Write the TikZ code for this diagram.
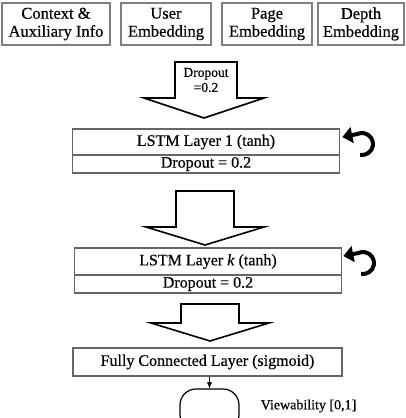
\documentclass[tikz,border=0pt]{standalone}
\usepackage{fontspec}
\setmainfont{Liberation Serif}[FakeBold=0.5]
\usepackage{tikz}
\usetikzlibrary{arrows.meta}

\begin{document}
\begin{tikzpicture}
            [x=1pt,y=-1pt,
             inbox/.style={draw=gray,line width=1.1pt,align=center,inner sep=0pt,
                           font=\fontsize{16.5}{18}\selectfont},
             layer/.style={draw=gray!80!black,line width=1.1pt,inner sep=0pt,
                           minimum width=267pt,font=\fontsize{16}{18}\selectfont},
             blockarrow/.style={draw=black,fill=white,line width=1.6pt,line join=miter},
             curl/.style={line width=4pt,-{Triangle[length=10pt,width=16pt]}}]
            \useasboundingbox (0,0) rectangle (406,418);

            \node (ctx)   [inbox,minimum width=108pt,minimum height=42pt] at ( 56,24) {Context \&\\Auxiliary Info};
            \node (user)  [inbox,minimum width= 90pt,minimum height=42pt] at (166,24) {User\\Embedding};
            \node (page)  [inbox,minimum width= 90pt,minimum height=42pt] at (267,24) {Page\\Embedding};
            \node (depth) [inbox,minimum width= 86pt,minimum height=42pt] at (361,24) {Depth\\Embedding};

            \draw[blockarrow] (175,62) -- (237,62) -- (237,98) -- (264,98) -- (204,118)
                              -- (144,98) -- (175,98) -- cycle;
            \node (drop0) [align=center,inner sep=0pt,font=\fontsize{13.5}{15}\selectfont] at (206,80) {Dropout\\=0.2};

            \node (lstm1) [layer,minimum height=26pt] at (206,142) {LSTM Layer 1 (tanh)};
            \node (drop1) [layer,minimum height=18pt] at (206,164) {Dropout = 0.2};
            \draw[curl] (362,144) ++(100:11) arc[start angle=100,end angle=-115,radius=11] -- ++(-15,3);

            \draw[blockarrow] (176,191) -- (234,191) -- (234,227) -- (264,227) -- (205,245)
                              -- (146,227) -- (176,227) -- cycle;

            \node (lstmk) [layer,minimum height=27pt] at (208,261.5) {LSTM Layer \textit{k} (tanh)};
            \node (dropk) [layer,minimum height=18pt] at (208,284) {Dropout = 0.2};
            \draw[curl] (363,263) ++(100:11) arc[start angle=100,end angle=-115,radius=11] -- ++(-15,3);

            \draw[blockarrow] (181,304) -- (239,304) -- (239,323) -- (269,323) -- (210,341)
                              -- (151,323) -- (181,323) -- cycle;

            \node (fc) [layer,minimum width=269pt,minimum height=28pt] at (207.5,362) {Fully Connected Layer (sigmoid)};

            \node (out) [draw,line width=1.2pt,rounded corners=16pt,minimum width=59pt,minimum height=42pt] at (209.5,410) {};
            \node (view) [font=\fontsize{14}{16}\selectfont] at (308.5,406) {Viewability [0,1]};

            \draw[-{Latex[length=6pt,width=5pt]}] (out.north |- fc.south) -- (out.north);
\end{tikzpicture}
\end{document}
